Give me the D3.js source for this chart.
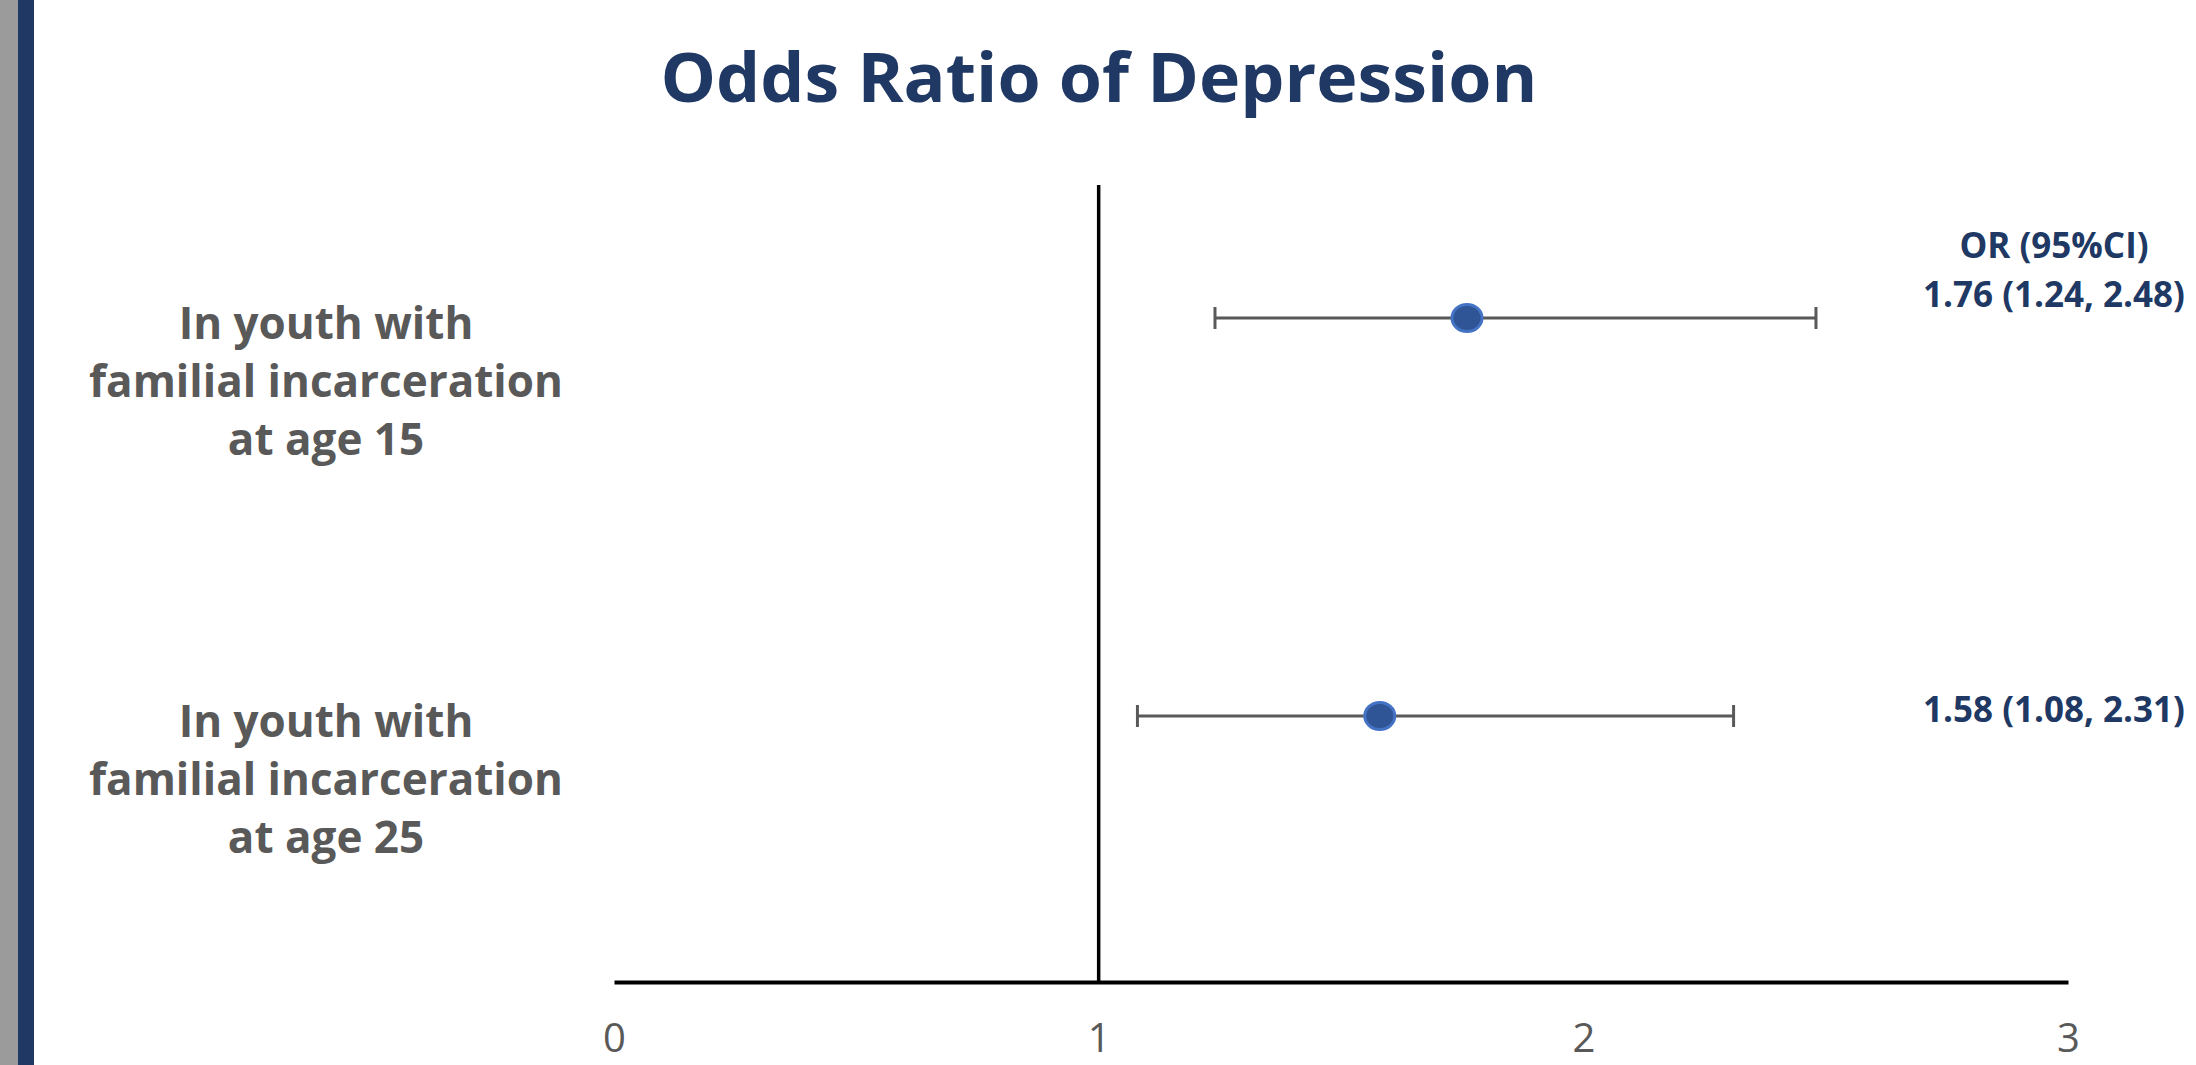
<!DOCTYPE html>
<html>
<head>
<meta charset="utf-8">
<script src="https://cdn.jsdelivr.net/npm/d3@7"></script>
<style>
  html, body { margin: 0; padding: 0; background: #fff; }
  svg { display: block; }
</style>
</head>
<body>
<div id="chart"></div>
<script>
// data
const categories = ['age15', 'age25'];
const labelLines = [
  ['In youth with', 'familial incarceration', 'at age 15'],
  ['In youth with', 'familial incarceration', 'at age 25']
];
const oddsRatio = [1.76, 1.58];
const ciLow = [1.24, 1.08];
const ciHigh = [2.48, 2.31];
const tickValues = [0, 1, 2, 3];
const title = 'Odds Ratio of Depression';
const ciHeader = 'OR (95%CI)';

const width = 2196;
const height = 1065;
const navy = '#203864';
const grey = '#595959';

const svg = d3.select('#chart')
  .append('svg')
  .attr('width', width)
  .attr('height', height);

// slide edge bars on the left
svg.append('rect').attr('x', 0).attr('y', 0).attr('width', 18).attr('height', height).attr('fill', '#9b9b9b');
svg.append('rect').attr('x', 18).attr('y', 0).attr('width', 16).attr('height', height).attr('fill', navy);

const x = d3.scaleLinear().domain([0, 3]).range([614, 2068]);
const y = d3.scalePoint().domain(categories).range([119, 915]).padding(0.5);

// title
svg.append('text')
  .attr('x', 1099)
  .attr('y', 102)
  .attr('text-anchor', 'middle')
  .attr('font-family', 'Open Sans, sans-serif')
  .attr('font-weight', 'bold')
  .attr('font-size', 68)
  .attr('textLength', 877)
  .attr('lengthAdjust', 'spacingAndGlyphs')
  .attr('fill', navy)
  .text(title);

// x axis
const axis = svg.append('g')
  .attr('transform', 'translate(0,982)')
  .call(d3.axisBottom(x).tickValues(tickValues).tickSize(0).tickFormat(d3.format('d')));

axis.select('.domain').attr('stroke', '#000').attr('stroke-width', 4);
axis.selectAll('text')
  .attr('y', 70)
  .attr('dy', 0)
  .attr('font-family', 'Open Sans, sans-serif')
  .attr('font-size', 40)
  .attr('fill', grey);

// reference line at OR = 1
svg.append('line')
  .attr('x1', x(1)).attr('x2', x(1))
  .attr('y1', 185).attr('y2', 982)
  .attr('stroke', '#000')
  .attr('stroke-width', 3.5);

const rows = categories.map((c, i) => ({ c, or: oddsRatio[i], lo: ciLow[i], hi: ciHigh[i], lines: labelLines[i] }));

// whiskers
const g = svg.append('g');
g.selectAll('line.ci')
  .data(rows)
  .enter().append('line')
  .attr('class', 'ci')
  .attr('x1', d => x(d.lo)).attr('x2', d => x(d.hi))
  .attr('y1', d => y(d.c)).attr('y2', d => y(d.c))
  .attr('stroke', grey)
  .attr('stroke-width', 3);

['lo', 'hi'].forEach(k => {
  g.selectAll('line.cap-' + k)
    .data(rows)
    .enter().append('line')
    .attr('class', 'cap-' + k)
    .attr('x1', d => x(d[k])).attr('x2', d => x(d[k]))
    .attr('y1', d => y(d.c) - 11).attr('y2', d => y(d.c) + 11)
    .attr('stroke', grey)
    .attr('stroke-width', 3);
});

// points
g.selectAll('ellipse')
  .data(rows)
  .enter().append('ellipse')
  .attr('cx', d => x(d.or))
  .attr('cy', d => y(d.c))
  .attr('rx', 15)
  .attr('ry', 13.5)
  .attr('fill', '#2F5597')
  .attr('stroke', '#4472C4')
  .attr('stroke-width', 3);

// category labels
const lab = svg.append('g')
  .selectAll('text')
  .data(rows)
  .enter().append('text')
  .attr('text-anchor', 'middle')
  .attr('font-family', 'Open Sans, sans-serif')
  .attr('font-weight', 'bold')
  .attr('font-size', 44)
  .attr('fill', grey);

lab.selectAll('tspan')
  .data(d => d.lines.map((t, j) => ({ t, j, yy: y(d.c) })))
  .enter().append('tspan')
  .attr('x', 326)
  .attr('y', d => d.yy + 21 + d.j * 58)
  .text(d => d.t);

// OR (95%CI) annotations
const fmt = d3.format('.2f');
const annDy = [-11, 6];
svg.append('text')
  .attr('x', 2054)
  .attr('y', y(categories[0]) - 60)
  .attr('text-anchor', 'middle')
  .attr('font-family', 'Open Sans, sans-serif')
  .attr('font-weight', 'bold')
  .attr('font-size', 35)
  .attr('fill', navy)
  .text(ciHeader);

svg.append('g')
  .selectAll('text')
  .data(rows)
  .enter().append('text')
  .attr('x', 2054)
  .attr('y', (d, i) => y(d.c) + annDy[i])
  .attr('text-anchor', 'middle')
  .attr('font-family', 'Open Sans, sans-serif')
  .attr('font-weight', 'bold')
  .attr('font-size', 35)
  .attr('fill', navy)
  .text(d => `${fmt(d.or)} (${fmt(d.lo)}, ${fmt(d.hi)})`);
</script>
</body>
</html>
